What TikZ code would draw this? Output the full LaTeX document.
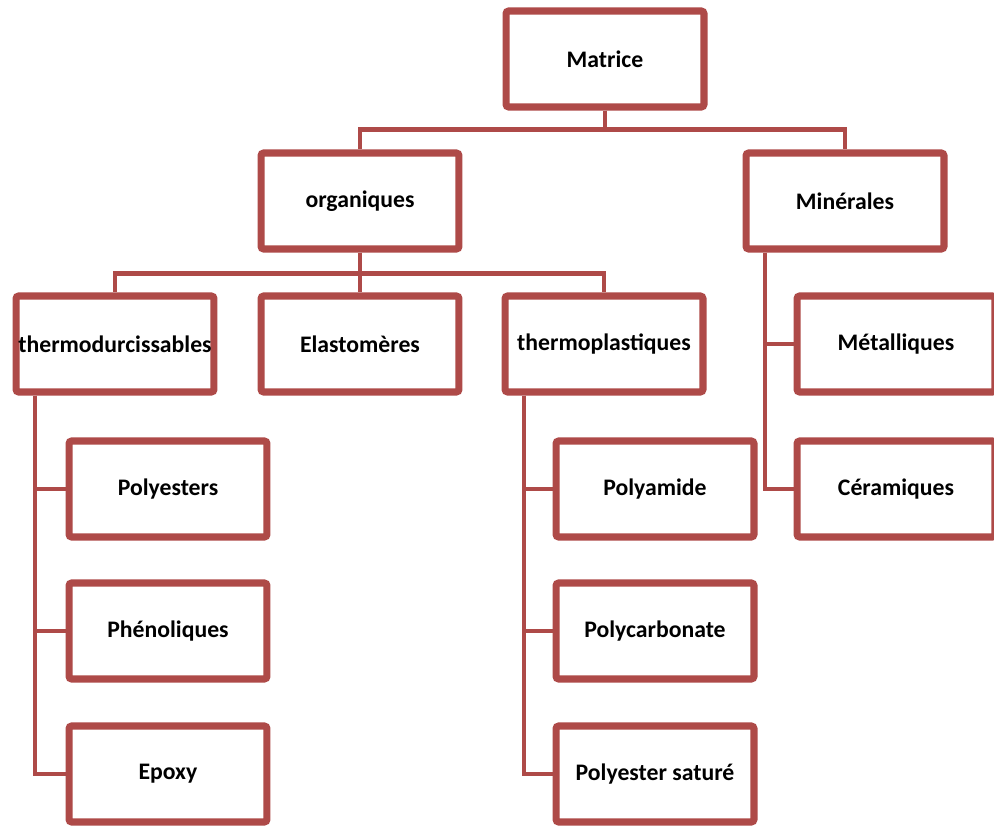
\documentclass[tikz,border=0pt]{standalone}
\usepackage{fontspec}
\setmainfont{Carlito}
\usepackage{tikz}
\usetikzlibrary{shadows}
\definecolor{brique}{HTML}{AE4A48}

\tikzset{
  boite/.style={draw=brique, line width=4pt, fill=white, rounded corners=1.5pt,
    minimum width=3.96cm, minimum height=1.92cm, inner sep=1pt,
    font=\fontsize{13.5}{15}\selectfont\bfseries,
    drop shadow={shadow xshift=1.2pt, shadow yshift=-1.2pt, opacity=0.35}},
  lien/.style={draw=brique, line width=2.8pt}
}

\begin{document}
\begin{tikzpicture}[x=0.02cm,y=-0.02cm]
	\useasboundingbox (0,0) rectangle (994,827);
	\clip (0,0) rectangle (994,827);
	% niveaux
	\node[boite] (mat) at (605,59) {Matrice};
	\node[boite] (org) at (360,201) {organiques};
	\node[boite] (min) at (845,201) {Minérales};
	\node[boite] (thd) at (115,344) {thermodurcissables};
	\node[boite] (ela) at (360,344) {Elastomères};
	\node[boite] (thp) at (604,344) {thermoplastiques};
	\node[boite] (met) at (896,344) {Métalliques};
	\node[boite] (cer) at (896,489) {Céramiques};
	\node[boite] (pes) at (168,489) {Polyesters};
	\node[boite] (phe) at (168,631) {Phénoliques};
	\node[boite] (epo) at (168,774) {Epoxy};
	\node[boite] (pam) at (655,489) {Polyamide};
	\node[boite] (pca) at (655,631) {Polycarbonate};
	\node[boite] (psa) at (655,774) {Polyester saturé};
	% liens
	\draw[lien] (mat.south) -- ++(0,19) -| (org.north);
	\draw[lien] (mat.south) -- ++(0,19) -| (min.north);
	\draw[lien] (org.south) -- ++(0,21) -| (thd.north);
	\draw[lien] (org.south) -- ++(0,21) -| (ela.north);
	\draw[lien] (org.south) -- ++(0,21) -| (thp.north);
	\draw[lien] ([xshift=0.45cm]thd.south west) |- (pes.west);
	\draw[lien] ([xshift=0.45cm]thd.south west) |- (phe.west);
	\draw[lien] ([xshift=0.45cm]thd.south west) |- (epo.west);
	\draw[lien] ([xshift=0.45cm]thp.south west) |- (pam.west);
	\draw[lien] ([xshift=0.45cm]thp.south west) |- (pca.west);
	\draw[lien] ([xshift=0.45cm]thp.south west) |- (psa.west);
	\draw[lien] ([xshift=0.45cm]min.south west) |- (met.west);
	\draw[lien] ([xshift=0.45cm]min.south west) |- (cer.west);
\end{tikzpicture}
\end{document}
